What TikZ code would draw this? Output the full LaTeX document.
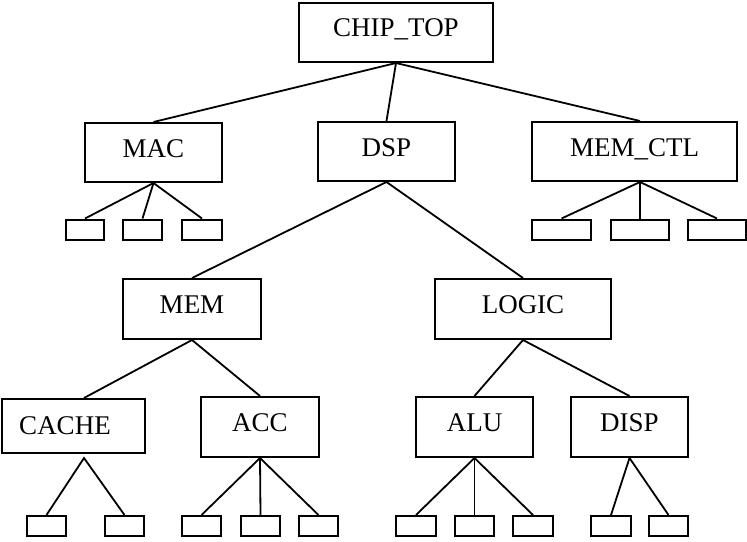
\documentclass[tikz,border=0pt]{standalone}
\usepackage{fontspec}
\setmainfont{Liberation Serif}
\usetikzlibrary{calc}
\begin{document}
\begin{tikzpicture}[x=1pt,y=-1pt,
  box/.style={draw,line width=2pt,inner sep=0pt,rectangle},
  kid/.style={box,minimum height=20pt},
  lbl/.style={inner sep=0pt,text height=17.8pt,text depth=0pt,font=\fontsize{27}{31}\selectfont},
  conn/.style={line width=1.8pt}]
\useasboundingbox (0,0) rectangle (747,541);
% main boxes
\node[box,minimum width=194pt,minimum height=59pt] (chip) at (396,32.5) {};
\node[box,minimum width=137pt,minimum height=59pt] (mac) at (153.5,152.5) {};
\node[box,minimum width=137pt,minimum height=59pt] (dsp) at (386.5,151.5) {};
\node[box,minimum width=205pt,minimum height=59pt] (memctl) at (634.5,151.5) {};
\node[box,minimum width=138pt,minimum height=60pt] (mem) at (192,309) {};
\node[box,minimum width=176pt,minimum height=60pt] (logic) at (523,309) {};
\node[box,minimum width=143pt,minimum height=54pt] (cache) at (73.5,426) {};
\node[box,minimum width=118pt,minimum height=60pt] (acc) at (260,427) {};
\node[box,minimum width=117pt,minimum height=60pt] (alu) at (474.5,427) {};
\node[box,minimum width=117pt,minimum height=60pt] (disp) at (629.5,427) {};
% labels
\node[lbl] (tchip) at (396,28) {CHIP\_TOP};
\node[lbl] (tmac) at (153.5,148.5) {MAC};
\node[lbl] (tdsp) at (386.5,147.5) {DSP};
\node[lbl] (tmemctl) at (634.5,147.5) {MEM\_CTL};
\node[lbl] (tmem) at (192,305) {MEM};
\node[lbl] (tlogic) at (523,305) {LOGIC};
\node[lbl] (tcache) at (65,425.5) {CACHE};
\node[lbl] (tacc) at (260,422.5) {ACC};
\node[lbl] (talu) at (474.5,422.5) {ALU};
\node[lbl] (tdisp) at (629.5,422.5) {DISP};
% leaf boxes
\node[kid,minimum width=38pt] (mac1) at (85,229.5) {};
\node[kid,minimum width=39pt] (mac2) at (142.5,229.5) {};
\node[kid,minimum width=40pt] (mac3) at (202,229.5) {};
\node[kid,minimum width=59pt] (mc1) at (561.5,229.5) {};
\node[kid,minimum width=58pt] (mc2) at (640,229.5) {};
\node[kid,minimum width=58pt] (mc3) at (717,229.5) {};
\node[kid,minimum width=39pt] (ca1) at (46.5,526) {};
\node[kid,minimum width=39pt] (ca2) at (124.5,526) {};
\node[kid,minimum width=39pt] (ac1) at (201.5,526) {};
\node[kid,minimum width=39pt] (ac2) at (260.5,526) {};
\node[kid,minimum width=39pt] (ac3) at (318.5,526) {};
\node[kid,minimum width=40pt] (al1) at (416,526) {};
\node[kid,minimum width=39pt] (al2) at (474.5,526) {};
\node[kid,minimum width=40pt] (al3) at (533,526) {};
\node[kid,minimum width=40pt] (di1) at (611,526) {};
\node[kid,minimum width=39pt] (di2) at (668.5,526) {};
% connectors
\draw[conn] (mac.north) -- (chip.south) -- (dsp.north);
\draw[conn] (chip.south) -- ($(memctl.north)+(5.5,0)$);
\draw[conn] (mac1.north) -- (mac.south) -- (mac3.north);
\draw[conn] (mac.south) -- (mac2.north);
\draw[conn] (mc1.north) -- ($(memctl.south)+(5.5,0)$) -- (mc3.north);
\draw[conn] ($(memctl.south)+(5.5,0)$) -- (mc2.north);
\draw[conn] (mem.north) -- (dsp.south) -- (logic.north);
\draw[conn] ($(cache.north)+(10.5,0)$) -- (mem.south) -- (acc.north);
\draw[conn] (alu.north) -- (logic.south) -- (disp.north);
\draw[conn] (ca1.north) -- ($(cache.south)+(10.5,4)$) -- (ca2.north);
\draw[conn] (ac1.north) -- (acc.south) -- (ac3.north);
\draw[conn] (acc.south) -- (ac2.north);
\draw[conn] (al1.north) -- (alu.south) -- (al3.north);
\draw[conn] (alu.south) -- (al2.north);
\draw[conn] (di1.north) -- (disp.south) -- (di2.north);
\end{tikzpicture}
\end{document}
